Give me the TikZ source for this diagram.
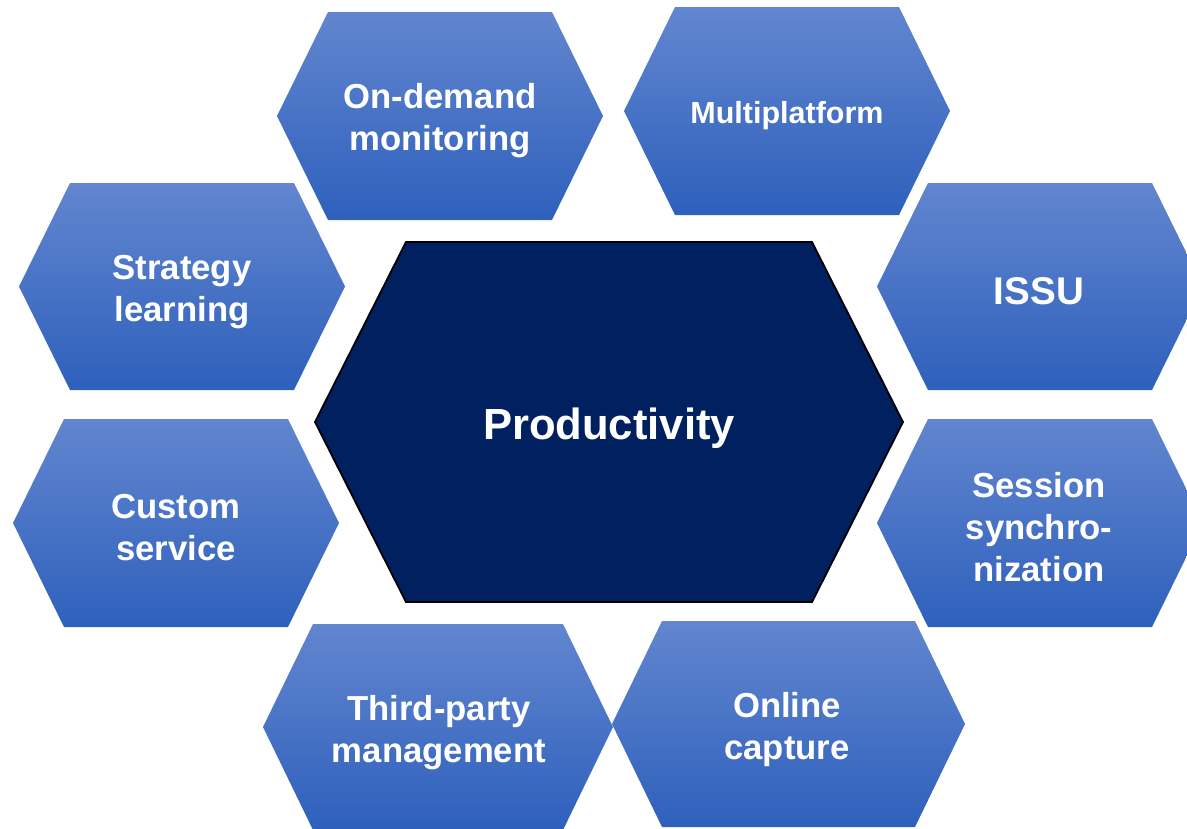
\documentclass[tikz,border=0pt]{standalone}
\usepackage{fontspec}
\setmainfont{Liberation Sans}
\definecolor{hextop}{HTML}{6286CF}
\definecolor{hexbottom}{HTML}{2E60BC}
\definecolor{corefill}{HTML}{002060}
\tikzset{
  hexshade/.style={top color=hextop, bottom color=hexbottom, draw=none},
  hexlabel/.style={text=white, align=center, font=\bfseries\fontsize{34.7}{42}\selectfont},
}
\begin{document}
\begin{tikzpicture}[x=1pt, y=-1pt]
    \useasboundingbox (0,0) rectangle (1187,828);
    \clip (0,0) rectangle (1187,828);

    % Top row
    \shade[hexshade] (277,116) -- ++(51,-104) -- ++(224,0) -- ++(51,104) -- ++(-51,104) -- ++(-224,0) -- cycle;
    \shade[hexshade] (624,111) -- ++(51,-104) -- ++(224,0) -- ++(51,104) -- ++(-51,104) -- ++(-224,0) -- cycle;

    % Left column
    \shade[hexshade] (19,286.5) -- ++(51,-103.5) -- ++(224,0) -- ++(51,103.5) -- ++(-51,103.5) -- ++(-224,0) -- cycle;
    \shade[hexshade] (13,523) -- ++(51,-104) -- ++(224,0) -- ++(51,104) -- ++(-51,104) -- ++(-224,0) -- cycle;

    % Right column
    \shade[hexshade] (877,286.5) -- ++(51,-103.5) -- ++(224,0) -- ++(51,103.5) -- ++(-51,103.5) -- ++(-224,0) -- cycle;
    \shade[hexshade] (877,523) -- ++(51,-104) -- ++(224,0) -- ++(51,104) -- ++(-51,104) -- ++(-224,0) -- cycle;

    % Bottom row
    \shade[hexshade] (263,727) -- ++(50,-103) -- ++(250,0) -- ++(50,103) -- ++(-50,103) -- ++(-250,0) -- cycle;
    \shade[hexshade] (612,724) -- ++(50,-103) -- ++(253,0) -- ++(50,103) -- ++(-50,103) -- ++(-253,0) -- cycle;

    % Centre
    \filldraw[fill=corefill, draw=black, line width=1.8pt]
        (315,422) -- (406,242) -- (812,242) -- (903,422) -- (812,602) -- (406,602) -- cycle;

    % Labels
    \node[hexlabel] (ondemand) at (440,121) {On-demand\\monitoring};
    \node[hexlabel, font=\bfseries\fontsize{30.5}{36}\selectfont] (multiplatform) at (787,116) {Multiplatform};
    \node[hexlabel] (strategy) at (182,292) {Strategy\\learning};
    \node[hexlabel] (custom) at (176,528) {Custom\\service};
    \node[hexlabel, font=\bfseries\fontsize{38.6}{46}\selectfont] (issu) at (1039,291) {ISSU};
    \node[hexlabel] (session) at (1039,527) {Session\\synchro-\\nization};
    \node[hexlabel] (thirdparty) at (439,733) {Third-party\\management};
    \node[hexlabel] (online) at (787,730) {Online\\capture};
    \node[hexlabel, font=\bfseries\fontsize{43.6}{52}\selectfont] (productivity) at (609,428) {Productivity};
\end{tikzpicture}
\end{document}
